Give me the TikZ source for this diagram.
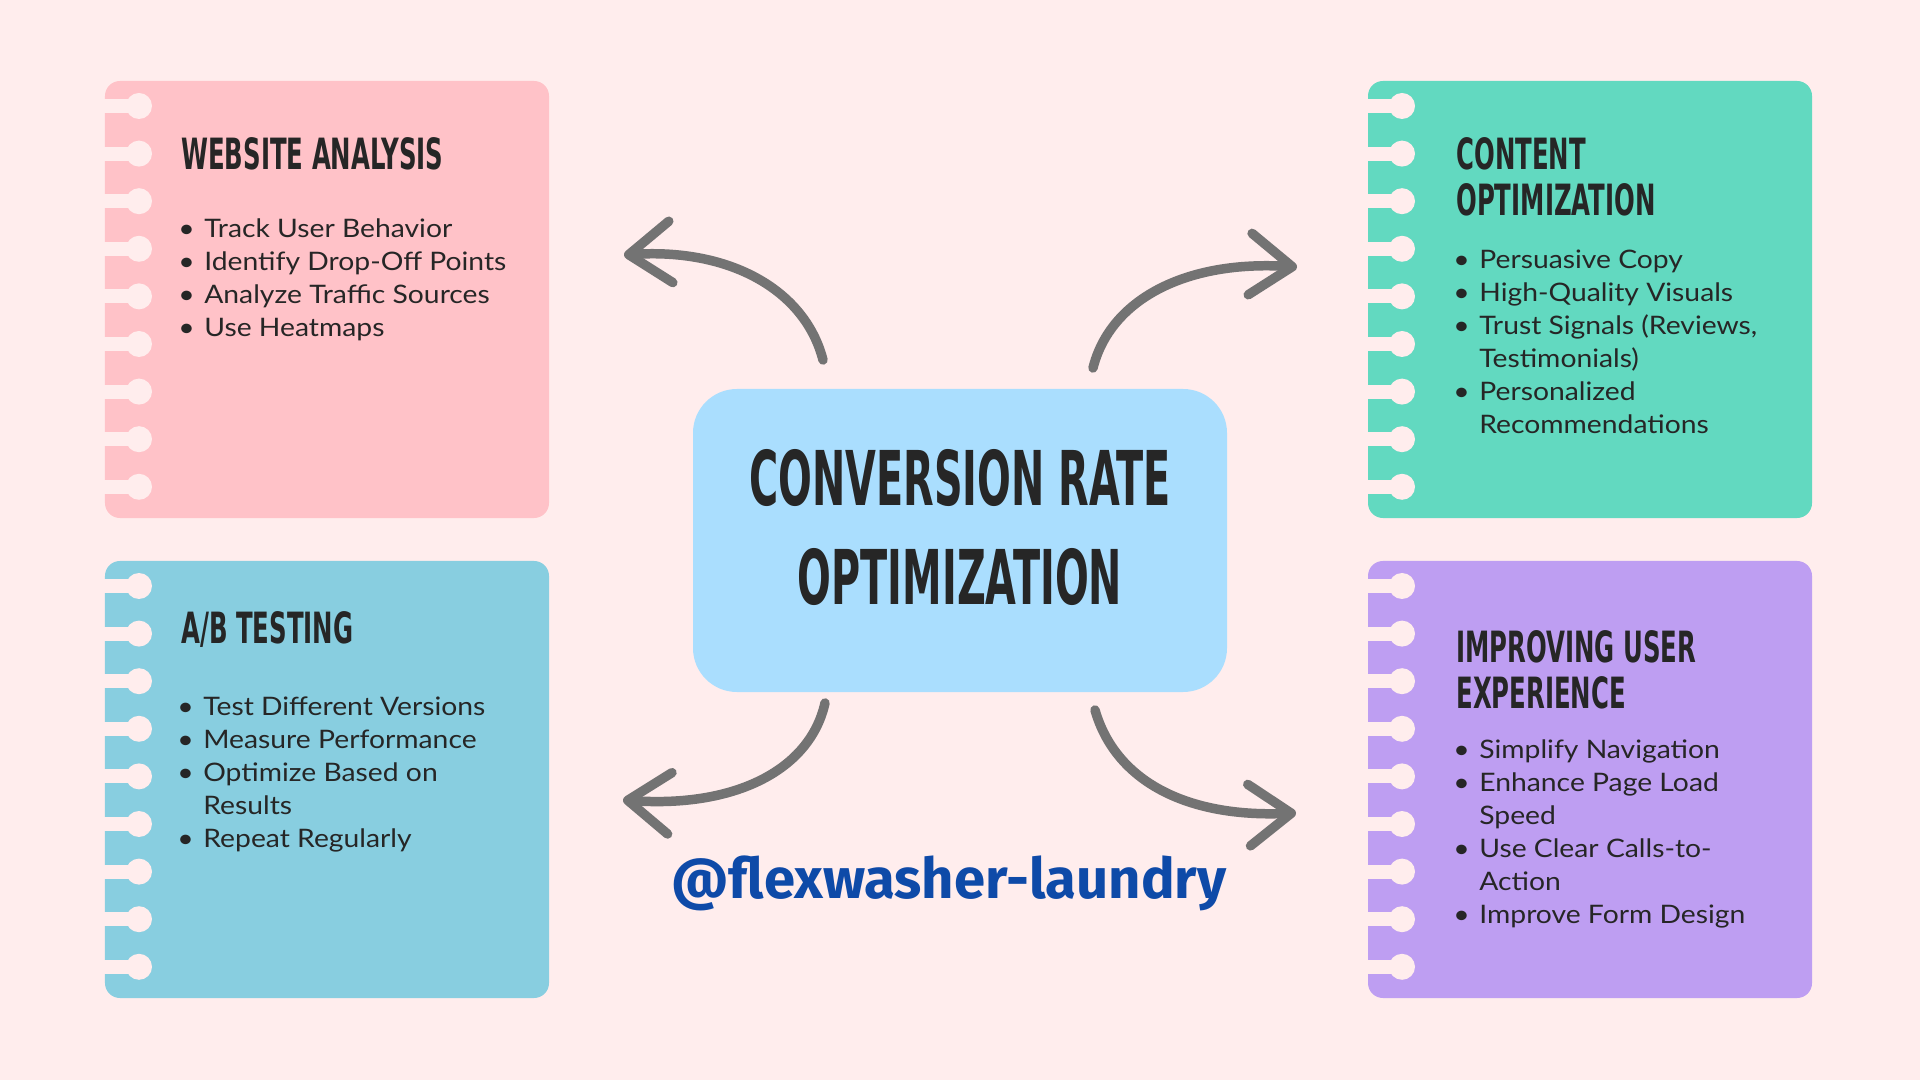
\documentclass[tikz,border=0pt]{standalone}
\usepackage{fontspec}
\usetikzlibrary{arrows.meta}
\setmainfont{Lato}[FakeStretch=1.11]
\newfontfamily\headfont[FakeStretch=0.63]{DejaVu Sans Condensed Bold}
\newfontfamily\titlefont[FakeStretch=0.585]{DejaVu Sans Condensed Bold}
\newfontfamily\tagfont{Fira Sans Bold}
\definecolor{bgpink}{HTML}{FFEDED}
\definecolor{cardpink}{HTML}{FFC2C8}
\definecolor{cardteal}{HTML}{62D9C0}
\definecolor{cardblue}{HTML}{88CEE0}
\definecolor{cardpurple}{HTML}{BE9EF2}
\definecolor{centerblue}{HTML}{AADEFE}
\definecolor{arrowgray}{HTML}{737373}
\definecolor{inkdark}{HTML}{262626}
\definecolor{tagblue}{HTML}{0E4AA8}
\newcommand{\itm}{\strut\makebox[14.8pt][l]{\textbullet}}
\newcommand{\cnt}{\strut\hspace*{14.8pt}}

\begin{document}
\begin{tikzpicture}[x=0.2mm,y=-0.2mm,
	every node/.style={inner sep=0pt},
	card/.style={rounded corners=8.5pt,minimum width=88.8mm,minimum height=87.4mm},
	crobox/.style={fill=centerblue,rounded corners=25pt,minimum width=106.8mm,minimum height=60.6mm},
	crotitle/.style={align=center,text=inkdark,font=\titlefont\fontsize{43}{55.8}\selectfont},
	heading/.style={anchor=north west,align=left,text=inkdark,font=\headfont\fontsize{24.5}{26}\selectfont},
	bullets/.style={anchor=north west,align=left,text=inkdark,font=\fontsize{14.5}{18.8}\selectfont},
	tag/.style={anchor=base,text=tagblue,font=\tagfont\fontsize{32}{38}\selectfont},
	curvearrow/.style={draw=arrowgray,line width=5.4pt,line cap=round,line join=round,
		-{Straight Barb[length=24pt,width=35pt,line width=5.4pt,round]}}]
	\useasboundingbox[fill=bgpink] (0,0) rectangle (1920,1080);

	\node[card,fill=cardpink] (wa) at (327,299.5) {};
	\node[card,fill=cardblue] (ab) at (327,779.5) {};
	\node[card,fill=cardteal] (co) at (1590,299.5) {};
	\node[card,fill=cardpurple] (ux) at (1590,779.5) {};
	\foreach \cx/\cy in {105/106,105/586,1368/106,1368/586}
		\foreach \k in {0,...,8} {
			\fill[bgpink] (\cx-2,\cy+47.6*\k-7) rectangle (\cx+34,\cy+47.6*\k+7);
			\fill[bgpink] (\cx+34,\cy+47.6*\k) circle (13);
		}

	\node[heading] (wahead) at (181,137) {\strut WEBSITE ANALYSIS};
	\node[bullets] (walist) at (178,214) {\itm Track User Behavior\\ \itm Identify Drop-Off Points\\ \itm Analyze Traffic Sources\\ \itm Use Heatmaps};

	\node[heading] (cohead) at (1456,137) {\strut CONTENT\\ \strut OPTIMIZATION};
	\node[bullets] (colist) at (1453,245) {\itm Persuasive Copy\\ \itm High-Quality Visuals\\ \itm Trust Signals (Reviews,\\ \cnt Testimonials)\\ \itm Personalized\\ \cnt Recommendations};

	\node[heading] (abhead) at (181,611) {\strut A/B TESTING};
	\node[bullets] (ablist) at (177,692) {\itm Test Different Versions\\ \itm Measure Performance\\ \itm Optimize Based on\\ \cnt Results\\ \itm Repeat Regularly};

	\node[heading] (uxhead) at (1456,630) {\strut IMPROVING USER\\ \strut EXPERIENCE};
	\node[bullets] (uxlist) at (1453,735) {\itm Simplify Navigation\\ \itm Enhance Page Load\\ \cnt Speed\\ \itm Use Clear Calls-to-\\ \cnt Action\\ \itm Improve Form Design};

	\node[crobox] (cro) at (960,540.5) {};
	\node[crotitle] (crotext) at (960,527.5) {CONVERSION RATE\\OPTIMIZATION};
	\node[tag] (handle) at (949,898) {@flexwasher-laundry};

	\coordinate (tlfrom) at (823,360);
	\coordinate (tlto) at (624,255);
	\coordinate (trfrom) at (1093,368);
	\coordinate (trto) at (1297,267);
	\coordinate (blfrom) at (825,703);
	\coordinate (blto) at (623,800);
	\coordinate (brfrom) at (1095,710);
	\coordinate (brto) at (1296,813);
	\draw[curvearrow] (tlfrom) .. controls (805,290) and (730,248) .. (tlto);
	\draw[curvearrow] (trfrom) .. controls (1110,300) and (1185,260) .. (trto);
	\draw[curvearrow] (blfrom) .. controls (810,770) and (735,808) .. (blto);
	\draw[curvearrow] (brfrom) .. controls (1115,780) and (1185,818) .. (brto);
\end{tikzpicture}
\end{document}
